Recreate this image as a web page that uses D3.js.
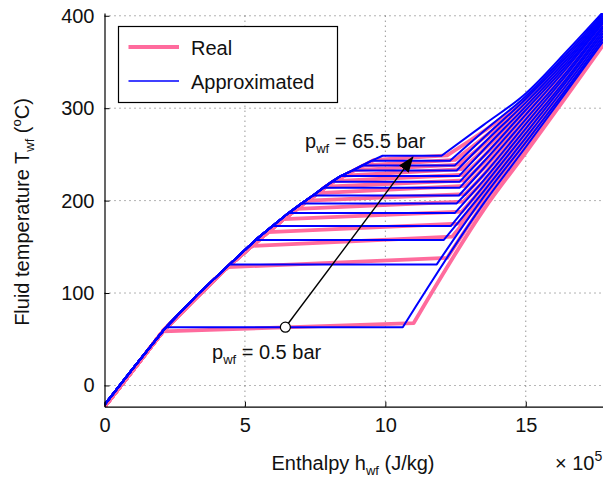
<!DOCTYPE html>
<html lang="en">
<head>
  <meta charset="UTF-8" />
  <title>Isobars: real vs approximated</title>
  <style>
    body {
      margin: 0;
      background: #fff;
    }
    svg {
      display: block;
      font-family: "Liberation Sans", Arial, Helvetica, sans-serif;
    }
    .grid line {
      stroke: #000;
      stroke-width: 0.8;
      stroke-dasharray: 1,4;
      opacity: 0.75;
    }
  </style>
</head>
<body>
  <div id="chart"></div>

  <script src="https://d3js.org/d3.v7.min.js"></script>
  <script>
    // pressure levels (bar)
    const pressures = [0.5, 5.5, 10.5, 15.5, 20.5, 25.5, 30.5, 35.5, 40.5, 45.5, 50.5, 55.5, 60.5, 65.5];

    // Approximated model (blue): plateau temperature, left / right end of plateau (x 1e5 J/kg)
    const satT    = [63, 131, 157.5, 172.5, 186.5, 197, 205.5, 214, 220.5, 226.5, 232.5, 238, 243, 248.5];
    const leftH   = [2.19, 4.45, 5.38, 5.98, 6.55, 7.02, 7.42, 7.80, 8.10, 8.40, 8.82, 9.18, 9.50, 9.90];
    const rightH  = [10.62, 11.83, 12.08, 12.33, 12.47, 12.54, 12.62, 12.65, 12.65, 12.62, 12.54, 12.47, 12.30, 12.0];
    // shared liquid curve points below the plateaus
    const approxLiqH = [0, 1.0, 3.3];
    const approxLiqT = [-21, 18, 98];

    // superheated vapour, sampled at these enthalpies
    const vapH = [13.5, 15, 16.5, 17.75];
    const approxVapT = [
      [197, 258, 320, 372],
      [204, 263, 323, 375],
      [210, 268, 327, 378],
      [216, 273, 331, 381],
      [222, 278, 334, 384],
      [228, 283, 338, 387],
      [235, 288, 341, 389],
      [242, 293, 345, 392],
      [248, 298, 348, 394],
      [255, 302, 351, 396],
      [262, 306, 354, 398],
      [268, 310, 357, 400],
      [275, 313, 360, 402],
      [282, 316, 363, 404]
    ];

    // Real fluid (pink)
    const realLeftH  = [2.08, 4.38, 5.25, 5.82, 6.38, 6.85, 7.22, 7.60, 7.88, 8.18, 8.55, 8.90, 9.22, 9.60];
    const realLeftT  = [58.5, 128, 151, 166, 180, 191, 200, 208, 215, 221, 227, 233, 238, 244];
    const realRightH = [11.01, 12.2, 12.38, 12.6, 12.72, 12.78, 12.84, 12.86, 12.84, 12.8, 12.72, 12.63, 12.48, 12.2];
    const realRightT = [67.5, 138, 161, 175, 188, 199, 207, 216, 222, 228, 234, 239, 244, 249];
    const realLiqH = [0, 1.0, 3.2];
    const realLiqT = [-23, 16, 93];
    const realVapT = [
      [190, 252, 315, 368],
      [197, 257, 318, 371],
      [203, 262, 322, 374],
      [209, 267, 326, 377],
      [215, 272, 329, 380],
      [221, 277, 333, 383],
      [228, 282, 336, 385],
      [235, 287, 340, 388],
      [241, 292, 343, 390],
      [248, 296, 346, 392],
      [255, 300, 349, 394],
      [261, 304, 352, 396],
      [268, 307, 355, 398],
      [275, 310, 358, 400]
    ];

    // annotation arrow (h, T)
    const arrowFrom = [6.44, 63];
    const arrowTo = [10.98, 247];

    const xTicks = [0, 5, 10, 15];
    const yTicks = [0, 100, 200, 300, 400];

    const W = 603, H = 477;
    const margin = { top: 13, right: 0, bottom: 70.3, left: 104.5 };

    const x = d3.scaleLinear().domain([0, 17.75]).range([margin.left, W - margin.right]);
    const y = d3.scaleLinear().domain([-23, 403]).range([H - margin.bottom, margin.top]);

    const svg = d3.select("#chart").append("svg")
      .attr("width", W)
      .attr("height", H);

    svg.append("defs").append("clipPath").attr("id", "plot-clip")
      .append("rect")
      .attr("x", margin.left).attr("y", margin.top)
      .attr("width", W - margin.left - margin.right)
      .attr("height", H - margin.top - margin.bottom);

    const marker = svg.select("defs").append("marker")
      .attr("id", "arrowhead")
      .attr("markerUnits", "userSpaceOnUse")
      .attr("markerWidth", 16).attr("markerHeight", 12)
      .attr("viewBox", "0 0 16 12")
      .attr("refX", 15).attr("refY", 6)
      .attr("orient", "auto");
    marker.append("path").attr("d", "M0,0 L16,6 L0,12 Z").attr("fill", "#000");

    // grid
    const grid = svg.append("g").attr("class", "grid");
    grid.selectAll(".vg").data(xTicks.filter(d => d > 0)).enter().append("line")
      .attr("x1", d => x(d)).attr("x2", d => x(d))
      .attr("y1", y.range()[0]).attr("y2", y.range()[1]);
    grid.selectAll(".hg").data(yTicks).enter().append("line")
      .attr("x1", x.range()[0]).attr("x2", x.range()[1])
      .attr("y1", d => y(d)).attr("y2", d => y(d));

    // common liquid envelope = fixed points + every plateau start
    function envelope(h0, t0, hs, ts) {
      return h0.map((h, k) => [h, t0[k]]).concat(hs.map((h, k) => [h, ts[k]]))
        .sort((a, b) => a[0] - b[0]);
    }
    const blueEnv = envelope(approxLiqH, approxLiqT, leftH, satT);
    const pinkEnv = envelope(realLiqH, realLiqT, realLeftH, realLeftT);

    const lineLin = d3.line().x(d => x(d[0])).y(d => y(d[1]));
    const lineSmooth = d3.line().x(d => x(d[0])).y(d => y(d[1])).curve(d3.curveMonotoneX);

    // liquid + plateau drawn straight, superheated part smoothed
    function isobarPath(env, lh, lt, rh, rt, vT) {
      const liq = env.filter(d => d[0] < lh).concat([[lh, lt], [rh, rt]]);
      const vap = [[rh, rt]].concat(vapH.map((h, k) => [h, vT[k]]));
      return lineLin(liq) + lineSmooth(vap).replace(/^M[^LC]*/, "");
    }

    const realPaths = pressures.map((p, i) =>
      isobarPath(pinkEnv, realLeftH[i], realLeftT[i], realRightH[i], realRightT[i], realVapT[i]));
    const approxPaths = pressures.map((p, i) =>
      isobarPath(blueEnv, leftH[i], satT[i], rightH[i], satT[i], approxVapT[i]));

    const plot = svg.append("g").attr("clip-path", "url(#plot-clip)");
    plot.selectAll(".real").data(realPaths).enter().append("path")
      .attr("d", d => d)
      .attr("fill", "none")
      .attr("stroke", "#ff6b9d")
      .attr("stroke-width", 3.8)
      .attr("stroke-linejoin", "round");
    plot.selectAll(".approx").data(approxPaths).enter().append("path")
      .attr("d", d => d)
      .attr("fill", "none")
      .attr("stroke", "#0000ff")
      .attr("stroke-width", 2)
      .attr("stroke-linejoin", "round");

    // axes (ticks pointing inward, matlab style)
    const xAxis = svg.append("g")
      .attr("transform", `translate(0,${y.range()[0]})`)
      .call(d3.axisBottom(x).tickValues(xTicks).tickSizeInner(-5).tickSizeOuter(0).tickPadding(11));
    const yAxis = svg.append("g")
      .attr("transform", `translate(${x.range()[0]},0)`)
      .call(d3.axisLeft(y).tickValues(yTicks).tickSizeInner(-5).tickSizeOuter(0).tickPadding(10));
    [xAxis, yAxis].forEach(a => {
      a.select(".domain").attr("stroke", "#000").attr("stroke-width", 1.2);
      a.selectAll(".tick line").attr("stroke", "#000");
      a.selectAll("text").attr("font-size", 20).attr("fill", "#111")
        .attr("font-family", "'Liberation Sans', Arial, sans-serif");
    });

    // axis titles
    const xt = svg.append("text")
      .attr("x", 353).attr("y", 470)
      .attr("text-anchor", "middle")
      .attr("font-size", 20).attr("fill", "#111");
    xt.append("tspan").text("Enthalpy h");
    xt.append("tspan").attr("font-size", 13).attr("dy", 5).text("wf");
    xt.append("tspan").attr("dy", -5).text(" (J/kg)");

    const sc = svg.append("text")
      .attr("x", 555).attr("y", 470)
      .attr("font-size", 20).attr("fill", "#111");
    sc.append("tspan").text("\u00d7 10");
    sc.append("tspan").attr("font-size", 14).attr("dy", -9).text("5");

    const yt = svg.append("text")
      .attr("transform", "translate(29,212) rotate(-90)")
      .attr("text-anchor", "middle")
      .attr("font-size", 20).attr("fill", "#111");
    yt.append("tspan").text("Fluid temperature T");
    yt.append("tspan").attr("font-size", 13).attr("dy", 5).text("wf");
    yt.append("tspan").attr("dy", -5).text(" (");
    yt.append("tspan").attr("font-size", 13).attr("dy", -8).text("o");
    yt.append("tspan").attr("dy", 8).text("C)");

    // annotation: arrow and marker circle
    svg.append("line")
      .attr("x1", x(arrowFrom[0])).attr("y1", y(arrowFrom[1]))
      .attr("x2", x(arrowTo[0])).attr("y2", y(arrowTo[1]))
      .attr("stroke", "#000").attr("stroke-width", 1.4)
      .attr("marker-end", "url(#arrowhead)");
    svg.append("circle")
      .attr("cx", x(arrowFrom[0])).attr("cy", y(arrowFrom[1]))
      .attr("r", 5)
      .attr("fill", "#fff").attr("stroke", "#000").attr("stroke-width", 1.2);

    function pLabel(px, py, value) {
      const t = svg.append("text").attr("x", px).attr("y", py)
        .attr("font-size", 20).attr("fill", "#111");
      t.append("tspan").text("p");
      t.append("tspan").attr("font-size", 13).attr("dy", 5).text("wf");
      t.append("tspan").attr("dy", -5).text(" = " + value + " bar");
    }
    pLabel(305, 148, pressures[pressures.length - 1]);
    pLabel(212, 359, pressures[0]);

    // legend
    const lg = svg.append("g");
    lg.append("rect")
      .attr("x", 118.5).attr("y", 26.5).attr("width", 219).attr("height", 76)
      .attr("fill", "#fff").attr("stroke", "#000").attr("stroke-width", 1.2);
    const legendItems = [
      { label: "Real", color: "#ff6b9d", width: 3.8, y: 47 },
      { label: "Approximated", color: "#0000ff", width: 1.6, y: 81 }
    ];
    legendItems.forEach(it => {
      lg.append("line")
        .attr("x1", 128.5).attr("x2", 179).attr("y1", it.y).attr("y2", it.y)
        .attr("stroke", it.color).attr("stroke-width", it.width);
      lg.append("text")
        .attr("x", 191).attr("y", it.y + 7.5)
        .attr("font-size", 20).attr("fill", "#111")
        .text(it.label);
    });
  </script>
</body>
</html>
